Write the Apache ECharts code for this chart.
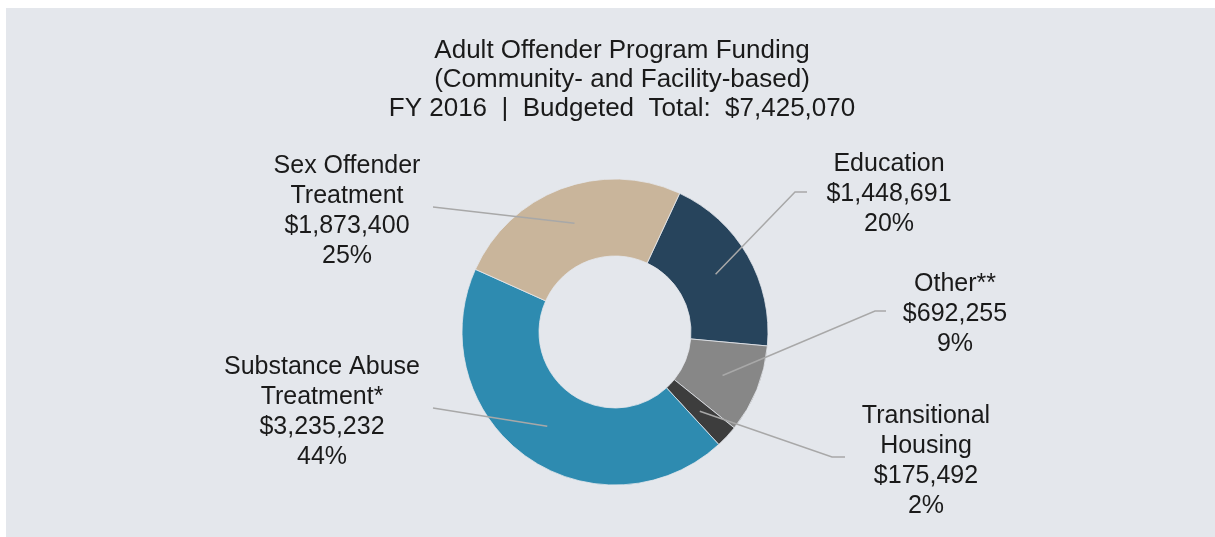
<!DOCTYPE html>
<html>
<head>
<meta charset="utf-8">
<script src="https://cdn.jsdelivr.net/npm/echarts@6/dist/echarts.min.js"></script>
<style>
  html, body { margin: 0; padding: 0; background: #fff; }
  #chart { width: 1215px; height: 537px; }
</style>
</head>
<body>
<div id="chart"></div>
<script>
// slices, clockwise from the Education slice
const categories = ['Education', 'Other**', 'Transitional\nHousing', 'Substance Abuse\nTreatment*', 'Sex Offender\nTreatment']
const amounts = [1448691, 692255, 175492, 3235232, 1873400]
const sliceColors = ['#27445c', '#878787', '#3d3d3d', '#2e8bb0', '#c9b59b']

// where each label sits and how its leader line bends
const labelPos = [
  { x: 889, y: 194, elbow: [795, 192], end: [807, 192] },
  { x: 955, y: 314, elbow: [875, 311], end: [886, 311] },
  { x: 926, y: 461, elbow: [832, 457], end: [845, 457] },
  { x: 322, y: 412, elbow: [433, 408], end: [433, 408] },
  { x: 347, y: 211, elbow: [433, 207], end: [433, 207] }
]

const CX = 615
const CY = 332
const MID_R = 116

let chart = echarts.init(document.getElementById('chart'))

const pieBase = {
  type: 'pie',
  center: [CX, CY],
  radius: [76, 153],
  startAngle: 65,
  clockwise: true,
  avoidLabelOverlap: false,
  emphasis: { disabled: true },
  silent: true
}

let option = {
  animation: false,
  graphic: [
    {
      type: 'rect',
      silent: true,
      z: -10,
      shape: { x: 6, y: 8, width: 1209, height: 529 },
      style: { fill: '#e4e7ec' }
    }
  ],
  title: {
    text: 'Adult Offender Program Funding\n(Community- and Facility-based)\nFY 2016  |  Budgeted  Total:  $7,425,070',
    left: 617,
    top: 31,
    textAlign: 'center',
    textStyle: {
      fontFamily: 'Liberation Sans, Arial, sans-serif',
      fontSize: 26,
      fontWeight: 'normal',
      lineHeight: 29,
      color: '#1a1a1a'
    }
  },
  series: [
    // the coloured ring
    Object.assign({}, pieBase, {
      z: 2,
      itemStyle: { borderColor: '#e4e7ec', borderWidth: 0.8 },
      label: { show: false },
      labelLine: { show: false },
      data: categories.map((name, i) => ({
        name: name,
        value: amounts[i],
        itemStyle: { color: sliceColors[i] }
      }))
    }),
    // same ring, transparent, only to carry labels and leader lines on top
    Object.assign({}, pieBase, {
      z: 5,
      itemStyle: { color: 'rgba(0,0,0,0)' },
      label: {
        show: true,
        position: 'outside',
        fontFamily: 'Liberation Sans, Arial, sans-serif',
        fontSize: 25,
        lineHeight: 30,
        color: '#1a1a1a',
        align: 'center',
        formatter: function (p) {
          return p.name + '\n$' + p.value.toLocaleString('en-US') + '\n' + Math.round(p.percent) + '%'
        }
      },
      labelLine: {
        show: true,
        lineStyle: { color: '#a8a8a8', width: 1.5 }
      },
      labelLayout: function (params) {
        const pos = labelPos[params.dataIndex]
        const p0 = params.labelLinePoints[0]
        const dx = p0[0] - CX
        const dy = p0[1] - CY
        const len = Math.sqrt(dx * dx + dy * dy)
        const inner = [CX + (dx / len) * MID_R, CY + (dy / len) * MID_R]
        return {
          x: pos.x,
          y: pos.y,
          align: 'center',
          verticalAlign: 'middle',
          labelLinePoints: [inner, pos.elbow, pos.end]
        }
      },
      data: categories.map((name, i) => ({ name: name, value: amounts[i] }))
    })
  ]
}

option && chart.setOption(option)
</script>
</body>
</html>
